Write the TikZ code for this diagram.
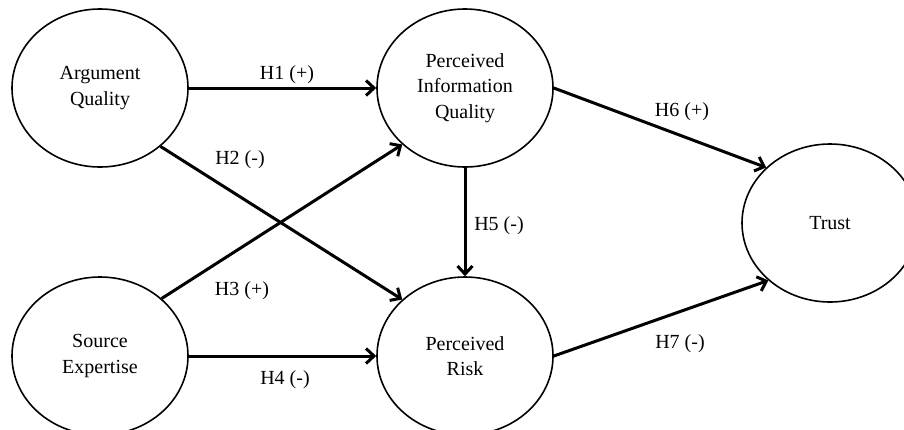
\documentclass[tikz,border=0pt]{standalone}
\usepackage{fontspec}
\setmainfont{Liberation Serif}
\usetikzlibrary{arrows.meta,shapes.geometric}
\begin{document}
\begin{tikzpicture}[x=1pt,y=-1pt,
  construct/.style={draw=black,line width=1.6pt,ellipse,minimum width=176pt,minimum height=158pt,inner sep=0pt,align=center,font=\fontsize{20}{25.5}\selectfont},
  hpath/.style={draw=black,line width=3pt,-{Straight Barb[length=8pt,width=15pt]}},
  hyp/.style={font=\fontsize{20}{24}\selectfont,inner sep=0pt}]
\useasboundingbox (0,0) rectangle (904,429);
\node[construct] (aq) at (100,88) {Argument\\Quality};
\node[construct] (piq) at (465,88) {Perceived\\Information\\Quality};
\node[construct] (se) at (100,356) {Source\\Expertise};
\node[construct] (pr) at (465,356) {Perceived\\Risk};
\node[construct] (tr) at (830,223) {Trust};
\draw[hpath] (aq) -- (piq);
\draw[hpath] (aq.-44) -- (pr.138);
\draw[hpath] (se.43) -- (piq.-138);
\draw[hpath] (se) -- (pr);
\draw[hpath] (piq) -- (pr);
\draw[hpath] (piq.east) -- (tr.139);
\draw[hpath] (pr.east) -- (tr.-137);
\node[hyp] (h1) at (287,75) {H1 (+)};
\node[hyp] (h2) at (240,160) {H2 (-)};
\node[hyp] (h3) at (242,291) {H3 (+)};
\node[hyp] (h4) at (285,380) {H4 (-)};
\node[hyp] (h5) at (499,226) {H5 (-)};
\node[hyp] (h6) at (682,112) {H6 (+)};
\node[hyp] (h7) at (680,344) {H7 (-)};
\end{tikzpicture}
\end{document}
